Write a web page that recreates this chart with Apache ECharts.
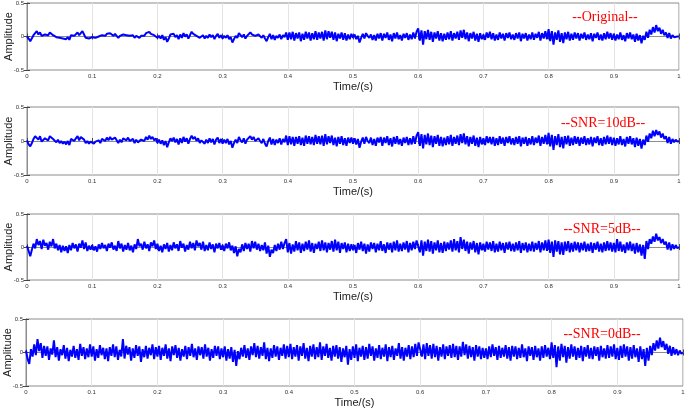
<!DOCTYPE html>
<html>
<head>
<meta charset="utf-8">
<script src="https://cdn.jsdelivr.net/npm/echarts@6/dist/echarts.min.js"></script>
<style>
html,body{margin:0;padding:0;background:#fff;}
#chart{width:685px;height:411px;}
</style>
</head>
<body>
<div id="chart"></div>
<script>
// ---- data ----
const sampleRate = 400; // samples per second, time axis 0..1 s
const panelTitles = ['--Original--', '--SNR=10dB--', '--SNR=5dB--', '--SNR=0dB--'];
const xTickLabels = ['0','0.1','0.2','0.3','0.4','0.5','0.6','0.7','0.8','0.9','1'];
const yTickLabels = ['-0.5','0','0.5'];
const xAxisTitle = 'Time/(s)';
const yAxisTitle = 'Amplitude';

const original = [
0,-.03,-.07,-.05,.02,.05,.08,.03,.06,.01,-.01,.03,.05,.02,.06,.07,.02,.04,-.01,.01,-.02,-.01,-.03,-.02,-.04,-.01,-.05,.02,.04,.01,.03,.06,.02,.05,.08,.03,-.02,-.01,-.03,-.02,
-.01,-.03,-.02,-.01,0,-.02,.02,.03,.01,.04,.02,.05,.03,.01,.04,.02,-.02,.01,-.01,.03,.05,.02,.04,.01,-.01,.02,-.02,.01,-.01,-.02,.01,.03,.01,.05,.03,.07,.04,.06,.02,.03,
-.02,.01,-.03,.02,-.05,-.01,-.08,-.03,.03,.01,.04,-.01,.02,-.04,.03,-.02,.05,0,.03,-.03,.02,.07,.04,.05,.01,.03,-.02,0,.02,-.03,.01,-.02,.03,-.01,.02,-.04,.01,.04,-.02,.02,
-.03,.01,-.02,.02,-.04,-.01,-.09,-.04,.01,-.02,.05,.02,-.01,.03,-.03,.01,.02,.06,.03,.05,.01,-.01,.03,.01,-.02,.02,-.03,-.07,-.01,.04,-.04,.02,-.05,.01,-.02,.03,-.04,.02,-.01,.06,
-.05,.06,-.04,.07,-.06,.05,-.03,.06,-.07,.04,-.05,.07,-.03,.06,-.06,.05,-.04,.08,-.05,.06,-.03,.07,-.06,.09,-.04,.08,-.02,.07,-.05,.06,-.07,.04,-.03,.06,-.05,.05,-.06,.03,-.04,.04,
-.02,.03,-.04,.01,-.09,-.02,.04,-.03,.05,.01,-.02,.03,-.05,.02,-.06,.04,-.03,.05,-.06,.04,-.02,.06,-.05,.03,-.07,.05,-.03,.06,-.04,.02,-.06,.04,-.02,.05,-.05,.03,-.04,.06,-.03,.07,
.12,-.06,.09,-.12,.08,-.04,.10,-.05,.07,-.08,.06,-.03,.08,-.06,.05,-.07,.04,-.05,.06,-.04,.08,-.06,.05,-.03,.07,-.05,.09,-.02,.10,-.04,.06,-.07,.05,-.03,.07,-.06,.04,-.08,.05,-.04,
.03,-.05,.06,-.02,.07,-.04,.05,-.06,.03,-.05,.06,-.03,.04,-.06,.05,-.02,.06,-.04,.03,-.05,.05,-.03,.06,-.07,.04,-.03,.05,-.06,.03,-.04,.06,-.05,.04,-.02,.07,-.06,.05,-.03,.08,-.04,
.11,-.07,.08,-.12,.06,-.05,.09,-.08,.05,-.10,.06,-.04,.07,-.06,.04,-.05,.06,-.03,.05,-.06,.04,-.03,.06,-.05,.03,-.04,.05,-.07,.04,-.02,.06,-.05,.03,-.06,.05,-.04,.07,-.03,.05,-.05,
.04,-.06,.03,-.04,.06,-.05,.02,-.07,.05,-.03,.06,-.04,.03,-.08,.04,-.06,.02,-.10,.01,-.05,.07,-.02,.10,.03,.14,.06,.17,.08,.13,.04,.10,.02,.06,-.02,.05,-.03,.02,-.01,.01,0,
0];

const snr10 = [
.01,-.05,-.08,-.03,.03,.07,.09,.02,.07,-.01,.01,.04,.06,.01,.07,.05,.03,.05,-.02,.02,-.03,0,-.04,-.01,-.05,0,-.06,.03,.05,0,.04,.07,.01,.06,.08,.02,-.03,0,-.04,-.01,
-.02,-.04,-.01,-.03,.01,-.03,.03,.02,0,.05,.01,.06,.02,0,.05,.01,-.03,.02,-.02,.04,.06,.01,.05,0,-.02,.03,-.03,.02,-.02,-.01,.02,.04,0,.06,.02,.08,.03,.06,.01,.04,
-.03,.02,-.04,.01,-.06,0,-.09,-.02,.04,0,.05,-.02,.03,-.05,.04,-.03,.06,-.01,.04,-.04,.03,.08,.03,.06,0,.04,-.03,.01,.03,-.04,.02,-.03,.04,-.02,.03,-.05,.02,.05,-.03,.03,
-.04,.02,-.03,.03,-.05,0,-.10,-.03,.02,-.03,.06,.01,-.02,.04,-.04,.02,.01,.07,.02,.06,0,-.02,.04,0,-.03,.03,-.04,-.08,0,.05,-.05,.03,-.06,.02,-.03,.04,-.05,.03,-.02,.08,
-.06,.07,-.05,.06,-.07,.06,-.04,.07,-.06,.05,-.07,.08,-.04,.07,-.05,.06,-.06,.09,-.04,.07,-.05,.08,-.07,.10,-.05,.07,-.03,.08,-.06,.05,-.08,.06,-.04,.07,-.06,.04,-.07,.05,-.03,.05,
-.04,.04,-.05,.03,-.10,-.01,.05,-.04,.06,0,-.03,.05,-.06,.03,-.07,.05,-.02,.06,-.07,.05,-.03,.07,-.06,.04,-.08,.06,-.04,.07,-.05,.03,-.07,.05,-.03,.06,-.06,.04,-.05,.07,-.04,.08,
.13,-.07,.10,-.11,.09,-.05,.11,-.06,.08,-.09,.07,-.04,.09,-.07,.06,-.08,.05,-.06,.07,-.05,.09,-.07,.06,-.04,.08,-.06,.10,-.03,.11,-.05,.07,-.08,.06,-.04,.08,-.07,.05,-.09,.06,-.05,
.04,-.06,.07,-.03,.06,-.05,.06,-.07,.04,-.06,.07,-.04,.05,-.07,.06,-.03,.07,-.05,.04,-.06,.06,-.04,.07,-.08,.05,-.04,.06,-.07,.04,-.05,.07,-.06,.05,-.03,.08,-.07,.06,-.04,.09,-.05,
.12,-.08,.09,-.13,.07,-.06,.10,-.09,.06,-.11,.07,-.05,.08,-.07,.05,-.06,.07,-.04,.06,-.07,.05,-.04,.07,-.06,.04,-.05,.06,-.08,.05,-.03,.07,-.06,.04,-.07,.06,-.05,.08,-.04,.06,-.06,
.05,-.07,.04,-.05,.07,-.06,.03,-.08,.06,-.04,.07,-.05,.04,-.09,.05,-.07,.03,-.11,.02,-.06,.08,-.01,.11,.04,.15,.07,.16,.09,.14,.05,.11,.03,.07,-.03,.06,-.04,.03,-.02,.02,-.01,
0];

const snr5 = [
.02,-.06,-.14,-.04,.05,-.02,.12,.03,.09,-.03,.11,.02,.06,-.04,.08,.01,.12,-.02,.05,-.05,.03,-.08,.02,-.06,.01,-.09,.03,-.05,.06,-.02,.04,-.07,.05,-.01,.10,-.03,.07,-.06,.02,-.04,
.03,-.05,.01,-.07,.04,-.03,.06,-.02,.03,-.06,.05,-.01,.07,-.04,.02,-.06,.09,-.02,.05,-.07,.03,-.04,.06,-.05,.02,-.08,.04,-.03,.12,.01,.05,-.04,.08,-.02,.04,-.06,.07,.01,.10,-.03,
.05,-.06,.02,-.08,.04,-.03,.06,-.07,.03,-.05,.07,-.02,.04,-.06,.09,-.01,.05,-.07,.03,-.04,.08,-.02,.06,-.05,.10,.01,.06,-.04,.08,-.06,.03,-.05,.07,-.03,.04,-.08,.05,-.02,.06,-.04,
.03,-.06,.05,-.02,.07,-.05,.02,-.09,.01,-.14,-.03,-.08,.04,-.06,.06,-.03,.05,-.07,.09,-.02,.08,-.04,.05,-.06,.03,-.05,.07,-.10,.02,-.15,-.04,-.09,.03,-.06,.05,-.04,.08,-.03,.06,.12,
-.08,.06,-.10,.04,-.07,.09,-.05,.07,-.09,.05,-.06,.08,-.04,.10,-.07,.06,-.09,.05,-.03,.08,-.06,.10,-.05,.07,-.08,.06,-.04,.09,-.07,.11,-.05,.08,-.09,.06,-.03,.07,-.08,.05,-.06,.04,
-.05,.03,-.09,.06,-.04,.08,-.06,.05,-.10,.04,-.07,.07,-.03,.06,-.08,.05,-.05,.09,-.06,.04,-.09,.07,-.04,.06,-.08,.08,-.05,.10,-.07,.05,-.06,.07,-.04,.09,-.08,.06,-.05,.08,-.03,.10,
.13,-.08,.10,-.13,.08,-.06,.11,-.07,.09,-.10,.07,-.05,.10,-.08,.06,-.09,.08,-.06,.07,-.04,.10,-.07,.12,-.05,.09,-.08,.15,-.03,.11,-.06,.08,-.10,.07,-.04,.09,-.08,.06,-.11,.07,-.05,
.05,-.07,.08,-.04,.07,-.06,.09,-.08,.05,-.07,.08,-.05,.06,-.09,.07,-.04,.08,-.06,.05,-.07,.07,-.05,.09,-.09,.06,-.05,.07,-.08,.05,-.06,.08,-.07,.06,-.04,.09,-.08,.07,-.05,.10,-.06,
.11,-.09,.08,-.15,.10,-.07,.09,-.11,.07,-.12,.08,-.06,.09,-.08,.06,-.07,.08,-.05,.07,-.08,.06,-.05,.08,-.07,.05,-.06,.07,-.09,.06,-.04,.08,-.07,.05,-.08,.07,-.06,.09,-.05,.07,-.07,
.06,-.08,.12,-.06,.08,-.07,.04,-.09,.07,-.05,.08,-.06,.05,-.10,.06,-.08,.04,-.13,.03,-.18,.09,-.03,.12,.05,.16,.08,.20,.10,.15,.06,.12,.04,.08,-.04,.07,-.05,.04,-.03,.03,-.02,
0];

const snr0 = [
.03,-.10,-.17,.05,-.06,.12,-.04,.20,.02,.14,-.08,.10,-.05,.09,-.11,.06,-.03,.18,-.07,.08,-.12,.05,-.04,.11,-.09,.07,-.13,.04,-.06,.10,-.08,.05,-.11,.13,-.05,.08,-.10,.06,-.07,.12,
-.06,.09,-.12,.05,-.08,.11,-.04,.07,-.10,.06,-.13,.08,-.05,.12,-.07,.09,-.11,.04,-.06,.20,-.09,.10,-.03,.08,-.12,.06,-.08,.11,-.05,.09,-.14,.05,-.07,.10,-.09,.07,-.04,.12,-.10,.08,
-.06,.10,-.11,.07,-.05,.12,-.09,.06,-.13,.09,-.04,.11,-.08,.07,-.12,.05,-.06,.10,-.10,.08,-.05,.13,-.07,.06,-.11,.09,-.04,.08,-.09,.12,-.06,.07,-.12,.05,-.08,.10,-.05,.09,-.10,.06,
-.07,.09,-.12,.05,-.09,.08,-.14,.04,-.20,.02,-.10,.07,-.06,.11,-.08,.06,-.11,.09,-.04,.14,-.07,.10,-.09,.08,-.05,.15,-.10,.07,-.13,.06,-.08,.11,-.06,.09,-.11,.07,-.05,.12,-.09,.10,
-.07,.13,-.10,.08,-.06,.11,-.12,.09,-.05,.14,-.09,.07,-.13,.10,-.06,.12,-.10,.08,-.07,.15,-.11,.09,-.05,.13,-.08,.07,-.12,.10,-.06,.11,-.09,.08,-.14,.06,-.07,.10,-.18,.05,-.11,.09,
-.08,.12,-.13,.07,-.06,.10,-.11,.08,-.09,.13,-.05,.09,-.12,.06,-.08,.11,-.10,.07,-.06,.12,-.13,.08,-.07,.10,-.11,.06,-.05,.14,-.09,.08,-.12,.07,-.06,.11,-.10,.09,-.07,.13,-.05,.15,
.17,-.06,.12,-.10,.14,-.05,.11,-.09,.13,-.07,.10,-.12,.08,-.06,.12,-.10,.09,-.05,.11,-.08,.13,-.07,.10,-.11,.09,-.06,.16,-.04,.12,-.09,.10,-.07,.08,-.12,.11,-.06,.09,-.10,.07,-.08,
.06,-.10,.09,-.07,.12,-.05,.08,-.11,.10,-.08,.07,-.06,.11,-.09,.08,-.12,.10,-.06,.09,-.10,.07,-.08,.12,-.07,.06,-.13,.09,-.05,.08,-.11,.10,-.07,.06,-.12,.09,-.08,.11,-.06,.07,-.10,
.15,-.08,.11,-.22,.09,-.12,.13,-.07,.10,-.15,.08,-.09,.12,-.06,.09,-.11,.07,-.08,.10,-.13,.08,-.06,.11,-.09,.07,-.10,.09,-.05,.08,-.12,.10,-.07,.06,-.09,.11,-.08,.09,-.06,.12,-.10,
.07,-.11,.10,-.08,.12,-.06,.09,-.12,.08,-.09,.11,-.07,.06,-.14,.09,-.10,.05,-.20,.07,-.12,.10,-.04,.14,.03,.18,.06,.22,.08,.17,.04,.13,-.02,.10,-.05,.08,-.03,.05,-.04,.03,-.02,
0];

const signals = [original, snr10, snr5, snr0];

// ---- layout ----
const grids = [
  {left: 27, top: 3, width: 652, height: 67},
  {left: 27, top: 107, width: 652, height: 68},
  {left: 27, top: 214, width: 652, height: 66},
  {left: 26, top: 319, width: 657, height: 67}
];
const titlePos = [[605, 17], [603, 123], [602, 229], [602, 334]];

const frameColor = '#8c8c8c';
const tickColor = '#444';
const labelColor = '#333';
const sansFont = 'Liberation Sans, Arial, sans-serif';

const option = {
  animation: false,
  backgroundColor: '#fff',
  grid: grids.map(g => Object.assign({show: true, borderColor: frameColor, borderWidth: 1, backgroundColor: '#fff',
    containLabel: false, outerBoundsMode: 'none'}, g)),
  xAxis: [],
  yAxis: [],
  series: [],
  graphic: []
};

grids.forEach((g, k) => {
  option.xAxis.push({
    type: 'value', gridIndex: k, min: 0, max: 1, interval: 0.1, position: 'bottom',
    name: xAxisTitle, nameLocation: 'middle', nameGap: 11, nameMoveOverlap: false,
    nameTextStyle: {fontFamily: sansFont, fontSize: 11, color: '#222'},
    axisLine: {show: true, lineStyle: {color: frameColor, width: 1}},
    axisTick: {show: true, inside: true, length: 3, lineStyle: {color: tickColor}},
    axisLabel: {show: true, margin: 3, fontSize: 6, color: labelColor, fontFamily: sansFont,
      formatter: v => xTickLabels[Math.round(v * 10)]},
    splitLine: {show: true, lineStyle: {color: '#e3e3e3', width: 1}}
  });
  option.xAxis.push({
    type: 'value', gridIndex: k, min: 0, max: 1, interval: 0.1, position: 'top',
    axisLine: {show: true, lineStyle: {color: frameColor, width: 1}},
    axisTick: {show: true, inside: true, length: 3, lineStyle: {color: tickColor}},
    axisLabel: {show: false}, splitLine: {show: false}
  });
  option.yAxis.push({
    type: 'value', gridIndex: k, min: -0.5, max: 0.5, interval: 0.5, position: 'left',
    name: yAxisTitle, nameLocation: 'middle', nameGap: 13, nameMoveOverlap: false,
    nameTextStyle: {fontFamily: sansFont, fontSize: 11, color: '#222'},
    axisLine: {show: true, lineStyle: {color: frameColor, width: 1}},
    axisTick: {show: true, inside: true, length: 3, lineStyle: {color: tickColor}},
    axisLabel: {show: true, margin: 3, fontSize: 6, color: labelColor, fontFamily: sansFont,
      formatter: v => yTickLabels[Math.round(v * 2) + 1]},
    splitLine: {show: false}
  });
  option.yAxis.push({
    type: 'value', gridIndex: k, min: -0.5, max: 0.5, interval: 0.5, position: 'right',
    axisLine: {show: true, lineStyle: {color: frameColor, width: 1}},
    axisTick: {show: true, inside: true, length: 3, lineStyle: {color: tickColor}},
    axisLabel: {show: false}, splitLine: {show: false}
  });
  option.series.push({
    type: 'line', xAxisIndex: 2 * k, yAxisIndex: 2 * k,
    data: signals[k].map((v, i) => [i / sampleRate, v]),
    showSymbol: false, symbol: 'none', silent: true, z: 3,
    lineStyle: {color: '#0000ff', width: 2},
    clip: true
  });
  option.graphic.push({
    type: 'text', x: titlePos[k][0], y: titlePos[k][1], z: 10,
    style: {text: panelTitles[k], fill: '#ff0000', font: '14px "Liberation Serif", "Times New Roman", serif',
      textAlign: 'center', textVerticalAlign: 'middle'}
  });
});

const chart = echarts.init(document.getElementById('chart'), null, {renderer: 'canvas'});
chart.setOption(option);
</script>
</body>
</html>
